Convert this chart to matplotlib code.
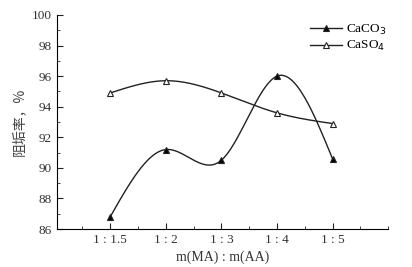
import numpy as np
import matplotlib
matplotlib.use("Agg")
import matplotlib.pyplot as plt
from matplotlib.ticker import MultipleLocator

categories = ["1 : 1.5", "1 : 2", "1 : 3", "1 : 4", "1 : 5"]
caco3 = [86.8, 91.2, 90.5, 96.0, 90.6]
caso4 = [94.9, 95.7, 94.9, 93.6, 92.9]

def natural_spline(x, y, n=200):
    x = np.asarray(x, float); y = np.asarray(y, float)
    k = len(x)
    h = np.diff(x)
    A = np.zeros((k, k)); b = np.zeros(k)
    A[0, 0] = 1; A[-1, -1] = 1
    for i in range(1, k - 1):
        A[i, i - 1] = h[i - 1]
        A[i, i] = 2 * (h[i - 1] + h[i])
        A[i, i + 1] = h[i]
        b[i] = 3 * ((y[i + 1] - y[i]) / h[i] - (y[i] - y[i - 1]) / h[i - 1])
    c = np.linalg.solve(A, b)
    xs = np.linspace(x[0], x[-1], n)
    ys = np.empty_like(xs)
    for j, xv in enumerate(xs):
        i = min(np.searchsorted(x, xv, side="right") - 1, k - 2)
        dx = xv - x[i]
        bi = (y[i + 1] - y[i]) / h[i] - h[i] * (2 * c[i] + c[i + 1]) / 3
        di = (c[i + 1] - c[i]) / (3 * h[i])
        ys[j] = y[i] + bi * dx + c[i] * dx ** 2 + di * dx ** 3
    return xs, ys

plt.rcParams["font.family"] = ["Liberation Serif", "Noto Sans CJK SC"]
fig = plt.figure(figsize=(4.12, 2.67), dpi=100)
ax = fig.add_axes([0.138, 0.142, 0.804, 0.802])

pos = np.arange(1, len(categories) + 1)
for vals, face, lab in [(caco3, "black", "CaCO$_3$"), (caso4, "white", "CaSO$_4$")]:
    xs, ys = natural_spline(pos, vals)
    ax.plot(xs, ys, color="#222222", lw=1.0)
    ax.plot(pos, vals, ls="none", marker="^", ms=5, mfc=face, mec="#222222", mew=0.8)
    ax.plot([], [], color="#222222", lw=1.0, marker="^", ms=4, mfc=face, mec="#222222", mew=0.8, label=lab)

ax.set_xlim(0.04, 6.0)
ax.set_ylim(86, 100)
ax.set_xticks(pos)
ax.set_xticklabels(categories)
ax.xaxis.set_minor_locator(MultipleLocator(0.5))
ax.yaxis.set_major_locator(MultipleLocator(2))
ax.yaxis.set_minor_locator(MultipleLocator(1))
ax.tick_params(direction="in", which="both", colors="#222222", labelcolor="#333333", labelsize=9.5)
ax.tick_params(which="major", length=4)
ax.tick_params(which="minor", length=2.5)
ax.spines["top"].set_visible(False)
ax.spines["right"].set_visible(False)
ax.set_xlabel("m(MA) : m(AA)", fontsize=10, color="#333333", labelpad=3)
ax.set_ylabel("阻垢率，%", fontsize=10, color="#444444", labelpad=4,
              family=["Noto Sans CJK SC", "DejaVu Sans"])
leg = ax.legend(loc="upper right", bbox_to_anchor=(1.03, 1.02), frameon=False, fontsize=9.5,
                handlelength=2.4, handletextpad=0.3, labelspacing=0.2)
fig.savefig("out.png", dpi=100)
